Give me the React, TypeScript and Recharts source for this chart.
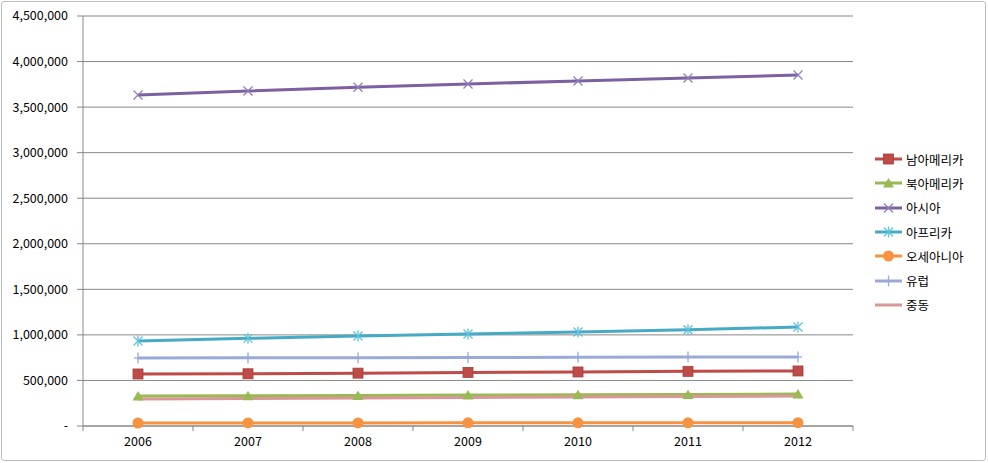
import { CartesianGrid, Line, LineChart, XAxis, YAxis } from 'recharts'

const years = ['2006', '2007', '2008', '2009', '2010', '2011', '2012']

const southAmerica = [571000, 573000, 580000, 588000, 593000, 600000, 604000]
const northAmerica = [329000, 332000, 336000, 340000, 343000, 347000, 351000]
const asia = [3633000, 3677000, 3718000, 3754000, 3787000, 3820000, 3852000]
const africa = [933000, 962000, 988000, 1010000, 1032000, 1056000, 1087000]
const oceania = [33000, 33500, 34000, 34500, 35000, 35500, 36000]
const europe = [746000, 748000, 750000, 752000, 754000, 756000, 757000]
const middleEast = [296000, 302000, 308000, 314000, 319000, 324000, 329000]

const yTicks = [0, 500000, 1000000, 1500000, 2000000, 2500000, 3000000, 3500000, 4000000, 4500000]

type Marker = 'square' | 'triangle' | 'x' | 'star' | 'circle' | 'plus' | 'none'

const seriesList: { key: string; name: string; color: string; markColor: string; marker: Marker; values: number[] }[] = [
  { key: 'sa', name: '남아메리카', color: '#BE4B48', markColor: '#BE4B48', marker: 'square', values: southAmerica },
  { key: 'na', name: '북아메리카', color: '#98B954', markColor: '#98B954', marker: 'triangle', values: northAmerica },
  { key: 'asia', name: '아시아', color: '#7D60A0', markColor: '#8F7FB8', marker: 'x', values: asia },
  { key: 'af', name: '아프리카', color: '#46AAC5', markColor: '#5FC3DE', marker: 'star', values: africa },
  { key: 'oc', name: '오세아니아', color: '#F69240', markColor: '#F69240', marker: 'circle', values: oceania },
  { key: 'eu', name: '유럽', color: '#9AA9D6', markColor: '#9AA9D6', marker: 'plus', values: europe },
  { key: 'me', name: '중동', color: '#D99795', markColor: '#D99795', marker: 'none', values: middleEast },
]

const chartData = years.map((year, i) => {
  const row: Record<string, string | number> = { year }
  seriesList.forEach((s) => {
    row[s.key] = s.values[i]
  })
  return row
})

function formatY(v: number): string {
  if (v === 0) return '-'
  return v.toLocaleString('en-US')
}

function MarkerShape({ marker, color, cx, cy }: { marker: Marker; color: string; cx: number; cy: number }) {
  if (marker === 'square') {
    return <rect x={cx - 5} y={cy - 5} width={10} height={10} fill={color} stroke="#A33D3A" strokeWidth={0.8} />
  }
  if (marker === 'triangle') {
    return <polygon points={`${cx},${cy - 5} ${cx + 5.5},${cy + 4.5} ${cx - 5.5},${cy + 4.5}`} fill={color} />
  }
  if (marker === 'circle') {
    return <circle cx={cx} cy={cy} r={5.5} fill={color} />
  }
  if (marker === 'x') {
    return (
      <g stroke={color} strokeWidth={1.3}>
        <line x1={cx - 4.5} y1={cy - 4.5} x2={cx + 4.5} y2={cy + 4.5} />
        <line x1={cx - 4.5} y1={cy + 4.5} x2={cx + 4.5} y2={cy - 4.5} />
      </g>
    )
  }
  if (marker === 'star') {
    return (
      <g stroke={color} strokeWidth={1.3}>
        <line x1={cx - 4.5} y1={cy - 4.5} x2={cx + 4.5} y2={cy + 4.5} />
        <line x1={cx - 4.5} y1={cy + 4.5} x2={cx + 4.5} y2={cy - 4.5} />
        <line x1={cx} y1={cy - 5.5} x2={cx} y2={cy + 5.5} />
      </g>
    )
  }
  if (marker === 'plus') {
    return (
      <g stroke={color} strokeWidth={1.3}>
        <line x1={cx} y1={cy - 5.5} x2={cx} y2={cy + 5.5} />
        <line x1={cx - 4} y1={cy} x2={cx + 4} y2={cy} />
      </g>
    )
  }
  return null
}

const fontFamily = '"Noto Sans CJK KR", "Noto Sans", sans-serif'
const halfStep = 55

// category label plus Excel-style tick marks between categories
function YearTick(props: { x?: number; y?: number; index?: number; payload?: { value: string } }) {
  const x = props.x ?? 0
  const y = props.y ?? 0
  const isLast = props.index === years.length - 1
  return (
    <g>
      <line x1={x - halfStep} y1={y - 11} x2={x - halfStep} y2={y - 6} stroke="#878787" />
      {isLast && <line x1={x + halfStep} y1={y - 11} x2={x + halfStep} y2={y - 6} stroke="#878787" />}
      <text x={x} y={y} dy="0.71em" textAnchor="middle" fill="#000" fontSize={12.5} fontFamily={fontFamily}>
        {props.payload?.value}
      </text>
    </g>
  )
}

export default function App() {
  return (
    <div style={{ position: 'absolute', left: 0, top: 0, width: 988, height: 463, background: '#fff' }}>
      <div
        style={{
          position: 'absolute',
          left: 1,
          top: 1,
          width: 983,
          height: 458,
          border: '1px solid #BDBDBD',
          borderRadius: 3,
        }}
      />
      <div style={{ position: 'absolute', left: 0, top: 0 }}>
        <LineChart
          width={988}
          height={463}
          data={chartData}
          margin={{ top: 16, right: 135, left: 10, bottom: 7 }}
        >
          <CartesianGrid vertical={false} stroke="#878787" strokeWidth={1} />
          <XAxis
            dataKey="year"
            height={30}
            padding={{ left: halfStep, right: halfStep }}
            axisLine={{ stroke: '#878787' }}
            tickLine={false}
            tickSize={0}
            tickMargin={11}
            tick={<YearTick />}
            interval={0}
          />
          <YAxis
            width={73}
            domain={[0, 4500000]}
            ticks={yTicks}
            interval={0}
            tickFormatter={formatY}
            axisLine={{ stroke: '#878787' }}
            tickLine={{ stroke: '#878787' }}
            tickSize={6}
            tickMargin={9}
            tick={{ fill: '#000', fontSize: 12.5, fontFamily }}
          />
          {seriesList.map((s) => (
            <Line
              key={s.key}
              dataKey={s.key}
              name={s.name}
              stroke={s.color}
              strokeWidth={3}
              isAnimationActive={false}
              dot={(props: { cx?: number; cy?: number; index?: number }) => (
                <g key={`${s.key}-${props.index}`}>
                  <MarkerShape marker={s.marker} color={s.markColor} cx={props.cx ?? 0} cy={props.cy ?? 0} />
                </g>
              )}
              activeDot={false}
            />
          ))}
        </LineChart>
      </div>
      <div style={{ position: 'absolute', left: 875, top: 147, fontFamily, fontSize: 12.5, color: '#000' }}>
        {seriesList.map((s) => (
          <div key={s.key} style={{ display: 'flex', alignItems: 'center', height: 24.3 }}>
            <svg width={28} height={14} style={{ marginRight: 3 }}>
              <line x1={0} y1={7} x2={27} y2={7} stroke={s.color} strokeWidth={3} />
              <MarkerShape marker={s.marker} color={s.markColor} cx={13.5} cy={7} />
            </svg>
            <span>{s.name}</span>
          </div>
        ))}
      </div>
    </div>
  )
}
